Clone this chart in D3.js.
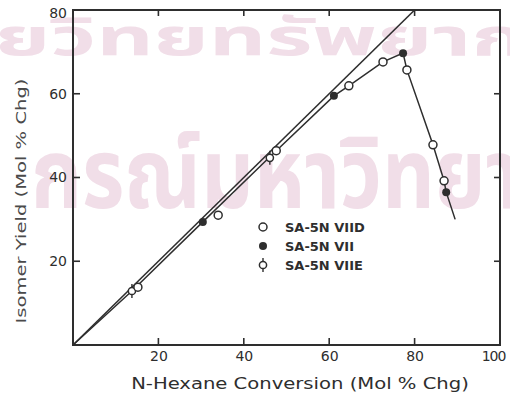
<!DOCTYPE html>
<html>
<head>
<meta charset="utf-8">
<script src="https://cdn.jsdelivr.net/npm/d3@7"></script>
<style>
  html, body { margin: 0; padding: 0; background: #ffffff; }
  svg { display: block; }
</style>
</head>
<body>
<svg id="chart" width="510" height="393"></svg>
<script>
// Isomer yield against n-hexane conversion for three catalyst samples.
const seriesNames = ["SA-5N VIID", "SA-5N VII", "SA-5N VIIE"];
const conversionVIID = [15.2, 34.0, 47.6, 64.6, 72.6, 78.2, 84.3, 86.9];
const yieldVIID      = [13.8, 31.0, 46.4, 61.9, 67.6, 65.7, 47.8, 39.2];
const conversionVII  = [30.4, 61.1, 77.3, 87.4];
const yieldVII       = [29.4, 59.5, 69.7, 36.5];
const conversionVIIE = [13.8, 46.1];
const yieldVIIE      = [12.9, 44.7];

// Smoothed trend through all samples
const trendConversion = [0, 13.8, 30.4, 46.5, 61.1, 64.6, 72.6, 77.3, 78.2, 84.3, 86.9, 87.4, 89.5];
const trendYield      = [0, 12.9, 29.4, 45.3, 59.5, 61.9, 67.6, 69.7, 65.7, 47.8, 39.2, 36.5, 30.0];

// 1:1 reference line (yield = conversion)
const diagonalConversion = [0, 80];
const diagonalYield      = [0, 80];

const xTicks = [20, 40, 60, 80, 100];
const yTicks = [20, 40, 60, 80];
const xTitle = "N-Hexane Conversion  (Mol % Chg)";
const yTitle = "Isomer Yield  (Mol % Chg)";
const watermarkLines = ["ยวิทยทรัพยากร", "กรณ์มหาวิทยาลัย"];

const ink = "#2e2e2e";
const svg = d3.select("#chart");

// horizontal stretch factor so a text run spans the wanted width
function stretchFactor(textSel, width) {
  const w = textSel.node().getComputedTextLength();
  return w > 0 ? width / w : 1;
}

// background watermark
const wmRows = [
  { tx: -5, ty: 55, size: 52, width: 578 },
  { tx: 31, ty: 208, size: 98, width: 590 }
];
wmRows.forEach((r, i) => {
  const g = svg.append("g");
  const t = g.append("text").attr("x", 0).attr("y", 0).attr("font-size", r.size)
    .attr("fill", "#f1dee8")
    .style("font-family", "'Noto Sans Thai', 'Noto Sans', sans-serif")
    .style("font-weight", "bold")
    .text(watermarkLines[i]);
  g.attr("transform", `translate(${r.tx},${r.ty}) scale(${stretchFactor(t, r.width)},1)`);
});

const x = d3.scaleLinear().domain([0, 100]).range([73, 500]);
const y = d3.scaleLinear().domain([0, 80]).range([345, 10]);

const font = "'DejaVu Sans', sans-serif";
const line = d3.line().x(d => x(d[0])).y(d => y(d[1]));

// plot frame
svg.append("rect").attr("x", x(0)).attr("y", y(80))
  .attr("width", x(100) - x(0)).attr("height", y(0) - y(80))
  .attr("fill", "none").attr("stroke", ink).attr("stroke-width", 2);

// inward tick marks on all four sides
const tl = 7;
const tickG = svg.append("g");
xTicks.filter(v => v < 100).forEach(v => {
  tickG.append("line").attr("x1", x(v)).attr("x2", x(v)).attr("y1", y(0)).attr("y2", y(0) - tl)
    .attr("stroke", ink).attr("stroke-width", 1.6);
  tickG.append("line").attr("x1", x(v)).attr("x2", x(v)).attr("y1", y(80)).attr("y2", y(80) + tl - 1)
    .attr("stroke", ink).attr("stroke-width", 1.6);
});
yTicks.filter(v => v < 80).forEach(v => {
  tickG.append("line").attr("x1", x(0)).attr("x2", x(0) + tl).attr("y1", y(v)).attr("y2", y(v))
    .attr("stroke", ink).attr("stroke-width", 1.6);
  tickG.append("line").attr("x1", x(100)).attr("x2", x(100) - tl + 1).attr("y1", y(v)).attr("y2", y(v))
    .attr("stroke", ink).attr("stroke-width", 1.6);
});

// tick labels through the library's axes
const axisBottomG = svg.append("g").attr("transform", `translate(0,${y(0)})`)
  .call(d3.axisBottom(x).tickValues(xTicks).tickSize(0).tickPadding(6).tickFormat(d3.format("d")));
const axisLeftG = svg.append("g").attr("transform", `translate(${x(0)},0)`)
  .call(d3.axisLeft(y).tickValues(yTicks).tickSize(0).tickPadding(6).tickFormat(d3.format("d")));
[axisBottomG, axisLeftG].forEach(g => {
  g.select(".domain").remove();
  g.selectAll(".tick line").remove();
  g.selectAll(".tick text").attr("fill", ink).style("font-family", font).style("font-size", "14px");
});
axisBottomG.selectAll(".tick text").filter(d => d === 100).attr("dx", -7)
  .style("letter-spacing", "-1px");
axisLeftG.selectAll(".tick text").filter(d => d === 80).attr("dy", "0.55em");

// titles
const xTitleG = svg.append("g");
const xTitleT = xTitleG.append("text").attr("text-anchor", "middle")
  .attr("fill", ink).style("font-family", font).style("font-size", "16px")
  .text(xTitle);
xTitleG.attr("transform", `translate(300,389) scale(${stretchFactor(xTitleT, 338)},1)`);

const yTitleG = svg.append("g");
const yTitleT = yTitleG.append("text").attr("text-anchor", "middle")
  .attr("fill", "#4a4a4a").style("font-family", font).style("font-size", "14px")
  .text(yTitle);
yTitleG.attr("transform", `translate(26,201) rotate(-90) scale(${stretchFactor(yTitleT, 245)},1)`);

svg.append("path").datum(d3.zip(diagonalConversion, diagonalYield))
  .attr("d", line).attr("fill", "none").attr("stroke", ink).attr("stroke-width", 1.6);
svg.append("path").datum(d3.zip(trendConversion, trendYield))
  .attr("d", line).attr("fill", "none").attr("stroke", ink).attr("stroke-width", 1.5);

// markers
function drawOpen(g, cx, cy) {
  g.append("circle").attr("cx", cx).attr("cy", cy).attr("r", 4)
    .attr("fill", "#fff").attr("stroke", ink).attr("stroke-width", 1.5);
}
function drawFilled(g, cx, cy) {
  g.append("circle").attr("cx", cx).attr("cy", cy).attr("r", 4).attr("fill", ink);
}
function drawStem(g, cx, cy) {
  g.append("line").attr("x1", cx).attr("x2", cx).attr("y1", cy - 7).attr("y2", cy + 7)
    .attr("stroke", ink).attr("stroke-width", 1.4);
  g.append("circle").attr("cx", cx).attr("cy", cy).attr("r", 3.6)
    .attr("fill", "#fff").attr("stroke", ink).attr("stroke-width", 1.5);
}

const marks = svg.append("g");
d3.zip(conversionVIIE, yieldVIIE).forEach(d => drawStem(marks, x(d[0]), y(d[1])));
d3.zip(conversionVIID, yieldVIID).forEach(d => drawOpen(marks, x(d[0]), y(d[1])));
d3.zip(conversionVII, yieldVII).forEach(d => drawFilled(marks, x(d[0]), y(d[1])));

// legend
const painters = [drawOpen, drawFilled, drawStem];
const legend = svg.append("g");
seriesNames.forEach((name, i) => {
  const ly = 227 + i * 19;
  painters[i](legend, 263, ly);
  legend.append("text").attr("x", 285).attr("y", ly).attr("dy", "0.36em")
    .attr("fill", ink).style("font-family", font).style("font-size", "13px").style("font-weight", "bold")
    .text(name);
});
</script>
</body>
</html>
